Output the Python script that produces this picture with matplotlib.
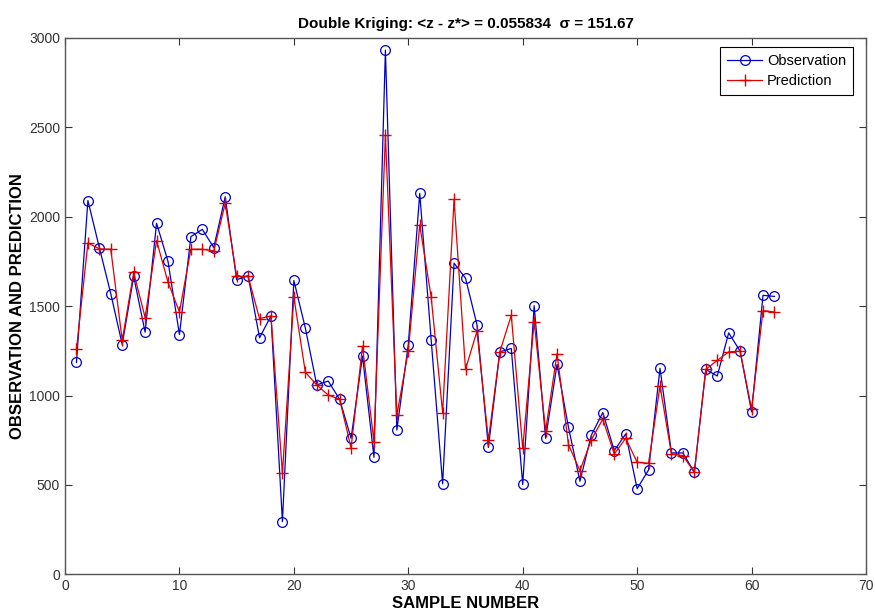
import numpy as np
import matplotlib
matplotlib.use("Agg")
import matplotlib.pyplot as plt

plt.rcParams['font.family'] = ['Liberation Sans', 'DejaVu Sans']

sample = np.arange(1, 63)

observation = [1185, 2090, 1827, 1569, 1285, 1666, 1354, 1963, 1750, 1341,
               1888, 1929, 1827, 2111, 1647, 1670, 1323, 1445, 295, 1643,
               1378, 1059, 1081, 979, 761, 1221, 655, 2931, 807, 1285,
               2130, 1311, 506, 1740, 1656, 1397, 710, 1244, 1263, 503,
               1502, 761, 1174, 822, 521, 779, 905, 692, 785, 479,
               584, 1152, 679, 679, 571, 1146, 1109, 1350, 1248, 909,
               1560, 1554]

prediction = [1258, 1853, 1820, 1818, 1308, 1688, 1436, 1866, 1634, 1467,
              1818, 1818, 1808, 2074, 1666, 1666, 1430, 1445, 565, 1551,
              1131, 1059, 1003, 979, 707, 1276, 742, 2458, 890, 1248,
              1953, 1550, 905, 2096, 1146, 1360, 751, 1244, 1449, 705,
              1412, 803, 1234, 725, 580, 753, 868, 673, 761, 627,
              621, 1054, 673, 664, 571, 1146, 1196, 1244, 1248, 924,
              1475, 1467]

fig = plt.figure(figsize=(8.75, 6.14), dpi=100)
ax = fig.add_axes([0.0743, 0.0645, 0.9154, 0.874])

ax.plot(sample, observation, color='#0000c8', linewidth=0.9, marker='o',
        markersize=7, markerfacecolor='none', markeredgewidth=0.9, label='Observation')
ax.plot(sample, prediction, color='#e00000', linewidth=0.9, marker='+',
        markersize=9, markeredgewidth=1.0, label='Prediction')

ax.set_xlim(0, 70)
ax.set_ylim(0, 3000)
ax.set_xticks(np.arange(0, 71, 10))
ax.set_yticks(np.arange(0, 3001, 500))
ax.tick_params(direction='in', top=True, right=True, length=5,
               labelsize=10, colors='#333333')
for s in ax.spines.values():
    s.set_color('#555555')
    s.set_linewidth(1.0)

ax.set_xlabel('SAMPLE NUMBER', fontsize=12, fontweight='bold', labelpad=2)
ax.set_ylabel('OBSERVATION AND PREDICTION', fontsize=12, fontweight='bold', labelpad=3)
ax.set_title('Double Kriging: <z - z*> = 0.055834  \u03c3 = 151.67',
             fontsize=11, fontweight='bold', pad=7)

leg = ax.legend(loc='upper right', bbox_to_anchor=(0.984, 0.983), borderaxespad=0,
                fontsize=10.5, fancybox=False, framealpha=1, edgecolor='black',
                handlelength=2.4, handletextpad=0.3, labelspacing=0.4, borderpad=0.5)
leg.get_frame().set_linewidth(0.8)

plt.savefig('out.png', dpi=100)
